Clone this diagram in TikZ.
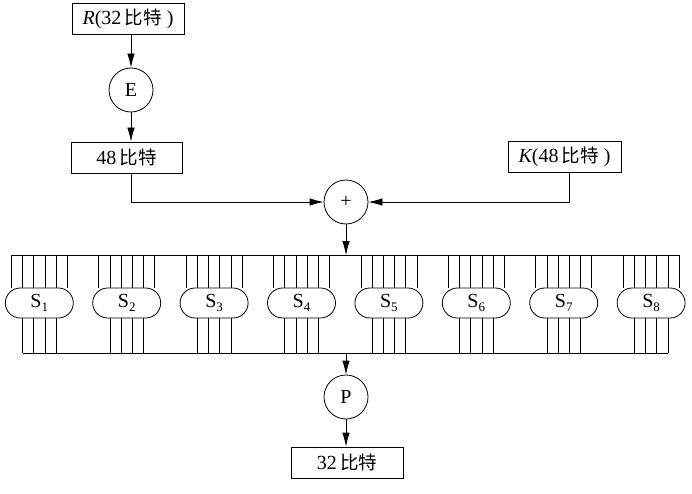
\documentclass[tikz,border=0pt]{standalone}
\usepackage{fontspec}
\setmainfont{Liberation Serif}
\newfontfamily\cjk{Noto Sans CJK SC}
\usetikzlibrary{arrows.meta,calc}
\begin{document}
\begin{tikzpicture}[x=1pt,y=-1pt,
  every path/.style={line width=0.8pt},
  txt/.style={font=\fontsize{20}{22}\selectfont},
  box/.style={draw,rectangle,inner sep=0pt,minimum height=31pt,txt},
  op/.style={draw,circle,inner sep=0pt,minimum size=44pt,txt},
  sbox/.style={draw,rectangle,rounded corners=15pt,inner sep=0pt,minimum width=68pt,minimum height=30pt,fill=white,txt},
  arr/.style={-{Latex[length=14pt,width=7.5pt]}},
  wire/.style={line width=0.7pt}]
\useasboundingbox (0,0) rectangle (692,494);
\newcommand{\bt}{{\cjk\fontsize{18.5}{20}\selectfont 比特}}
\node[box,minimum width=112pt] (R) at (128,18.5) {{\itshape R}(32\,\bt\ )};
\node[op] (E) at (131,90) {E};
\node[box,minimum width=111pt] (M) at (126.5,157.5) {48\,\bt};
\node[box,minimum width=113pt] (K) at (564.5,157) {{\itshape K}(48\,\bt\ )};
\node[op,font=\fontsize{20}{20}\selectfont] (X) at (346,202) {+};
\node[op] (P) at (346,397) {P};
\node[box,minimum width=112pt] (O) at (347,462.5) {32\,\bt};
\coordinate (tl) at (11.3,255);
\coordinate (tr) at (679,255);
\coordinate (bl) at (22.5,353);
\coordinate (br) at (667.8,353);
\draw[arr] (E.north |- R.south) -- (E.north);
\draw[arr] (E.south) -- (E.south |- M.north);
\draw[arr] (E |- M.south) |- (X.west);
\draw[arr] ([xshift=4.5pt]K.south) |- (X.east);
\draw[arr] (X.south) -- (X.south |- tl);
\draw (tl) -- (tr);
\draw (bl) -- (br);
\foreach \i in {1,...,8}{
  \pgfmathsetmacro\cx{39.3+(\i-1)*87.4}
  \node[sbox] (s\i) at (\cx,303) {S\raisebox{-4.5pt}{\fontsize{13}{13}\selectfont\i}};
  \foreach \o in {-28,-16.8,-5.6,5.6,16.8,28}{
    \draw[wire] ([xshift=\o pt]s\i.north) -- ([xshift=\o pt]s\i.north |- tl);
  }
  \foreach \o in {-16.8,-5.6,5.6,16.8}{
    \draw[wire] ([xshift=\o pt]s\i.south) -- ([xshift=\o pt]s\i.south |- bl);
  }
}
\draw[arr] (P.north |- bl) -- (P.north);
\draw[arr] (P.south) -- (P.south |- O.north);
\end{tikzpicture}
\end{document}
